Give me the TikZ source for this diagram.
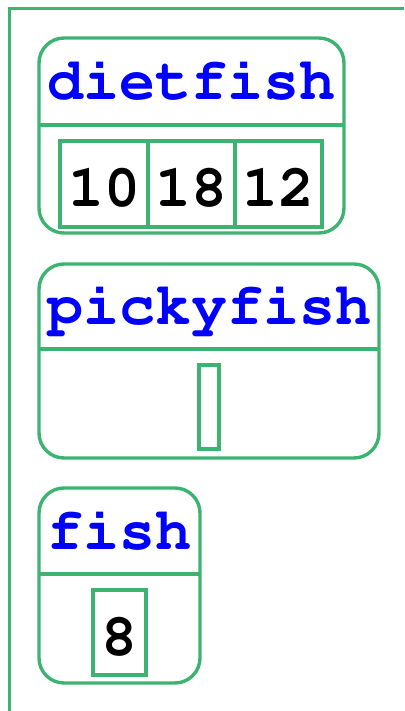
\documentclass[tikz,border=0pt]{standalone}
\definecolor{seagreen}{RGB}{60,179,113}
\definecolor{namecol}{RGB}{0,0,255}
% bold Courier for names and values
\newcommand{\courierbold}{\fontencoding{OT1}\fontfamily{pcr}\fontseries{b}\fontsize{60}{60}\selectfont}
\begin{document}
\begin{tikzpicture}[x=1pt,y=-1pt,line width=3.4pt,
  framebox/.style={draw=seagreen,rounded corners=25pt,outer sep=0pt,inner sep=0pt,anchor=north west},
  nametext/.style={text=namecol,font=\courierbold,inner sep=0pt,anchor=base},
  cellbox/.style={draw=seagreen,outer sep=0pt,inner sep=0pt,anchor=north west,minimum height=86pt,
    text height=66pt,text depth=20pt,font=\courierbold},
  divider/.style={draw=seagreen}]
\useasboundingbox (0,0) rectangle (404,711);
% enclosing frame edges
\draw[seagreen] (8,8.5) -- (404,8.5);
\draw[seagreen] (9.5,8) -- (9.5,711);

% dietfish
\node[framebox,minimum width=305pt,minimum height=195pt] (diet) at (39,38) {};
\draw[divider] (diet.west |- 0,125) -- (diet.east |- 0,125);
\node[nametext] (dietname) at (191.5,99.5) {dietfish};
\node[cellbox,minimum width=88pt] (d1) at (60,141) {10};
\node[cellbox,minimum width=87pt] (d2) at (148,141) {18};
\node[cellbox,minimum width=87pt] (d3) at (235,141) {12};

% pickyfish
\node[framebox,minimum width=340pt,minimum height=194pt] (picky) at (39,264) {};
\draw[divider] (picky.west |- 0,349) -- (picky.east |- 0,349);
\node[nametext] (pickyname) at (209,324) {pickyfish};
\node[cellbox,minimum width=20pt,minimum height=84pt,text height=0pt,text depth=0pt] (p1) at (199,365) {};

% fish
\node[framebox,minimum width=161pt,minimum height=195pt] (fish) at (39,488) {};
\draw[divider] (fish.west |- 0,574) -- (fish.east |- 0,574);
\node[nametext] (fishname) at (119.5,549.5) {fish};
\node[cellbox,minimum width=53pt,minimum height=85pt,text height=65pt] (f1) at (93,590) {8};
\end{tikzpicture}
\end{document}
